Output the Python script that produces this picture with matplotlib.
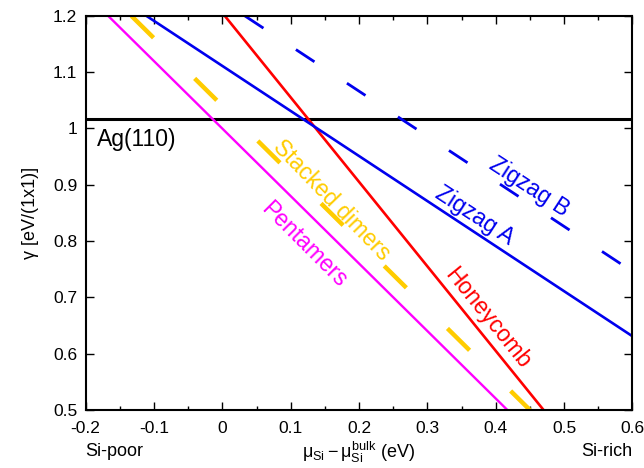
import matplotlib
matplotlib.use("Agg")
import matplotlib.pyplot as plt
from matplotlib.ticker import MultipleLocator

plt.rcParams['font.family'] = ['Liberation Sans', 'DejaVu Sans']
plt.rcParams['mathtext.fontset'] = 'custom'
plt.rcParams['mathtext.rm'] = 'Liberation Sans'
plt.rcParams['mathtext.it'] = 'Liberation Sans'

# line end points (x in eV, gamma in eV/(1x1))
ag_x = [-0.2, 0.6]
ag_y = [1.016, 1.016]
pent_x = [-0.167, 0.417]
pent_y = [1.2, 0.5]
dimer_x = [-0.133, 0.45]
dimer_y = [1.2, 0.5]
honey_x = [0.0036, 0.47]
honey_y = [1.2, 0.5]
zza_x = [-0.111, 0.6]
zza_y = [1.2, 0.631]
zzb_x = [0.033, 0.6]
zzb_y = [1.2, 0.746]

x_ticks = [-0.2, -0.1, 0, 0.1, 0.2, 0.3, 0.4, 0.5, 0.6]
x_ticklabels = ['-0.2', '-0.1', '0', '0.1', '0.2', '0.3', '0.4', '0.5', '0.6']
y_ticks = [0.5, 0.6, 0.7, 0.8, 0.9, 1.0, 1.1, 1.2]
y_ticklabels = ['0.5', '0.6', '0.7', '0.8', '0.9', '1', '1.1', '1.2']

fig = plt.figure(figsize=(6.44, 4.68), dpi=100)
ax = fig.add_axes([0.133, 0.124, 0.849, 0.842])

ax.plot(ag_x, ag_y, color='black', lw=2.2)
ax.plot(pent_x, pent_y, color='#ff00ff', lw=1.7)
ax.plot(dimer_x, dimer_y, color='#ffcc00', lw=3.2, dashes=(7, 13))
ax.plot(honey_x, honey_y, color='#ff0000', lw=1.9)
ax.plot(zza_x, zza_y, color='#0000ee', lw=1.9)
ax.plot(zzb_x, zzb_y, color='#0000ee', lw=2.0, dashes=(8, 14))

lab = dict(fontsize=16.5, ha='center', va='center', rotation_mode='anchor')
ax.text(-0.183, 0.98, 'Ag(110)', fontsize=16.5, ha='left', va='center')
ax.text(0.12, 0.793, 'Pentamers', color='#ff00ff', rotation=-45, **lab)
ax.text(0.16, 0.872, 'Stacked dimers', color='#ffcc00', rotation=-46, **lab)
ax.text(0.388, 0.662, 'Honeycomb', color='#ff0000', rotation=-51, **lab)
ax.text(0.369, 0.845, 'Zigzag A', color='#0000ee', rotation=-33, **lab)
ax.text(0.449, 0.896, 'Zigzag B', color='#0000ee', rotation=-33, **lab)

ax.set_xlim(-0.2, 0.6)
ax.set_ylim(0.5, 1.2)
ax.set_xticks(x_ticks)
ax.set_xticklabels(x_ticklabels)
ax.set_yticks(y_ticks)
ax.set_yticklabels(y_ticklabels)
ax.xaxis.set_minor_locator(MultipleLocator(0.05))
ax.tick_params(which='both', direction='in', top=True, right=True, labelsize=12.5)
ax.tick_params(which='major', length=6, width=1)
ax.tick_params(which='minor', length=3, width=1)
ax.tick_params(axis='x', pad=8)
ax.tick_params(axis='y', pad=6)
for s in ax.spines.values():
    s.set_linewidth(1.5)

ax.set_ylabel('γ [eV/(1x1)]', fontsize=13, labelpad=10)
ax.set_xlabel(r'$\mu_{\mathrm{Si}} - \mu_{\mathrm{Si}}^{\mathrm{bulk}}$ (eV)', fontsize=13, labelpad=3)
ax.text(0.0, -0.083, 'Si-poor', transform=ax.transAxes, fontsize=13, ha='left', va='top')
ax.text(1.0, -0.083, 'Si-rich', transform=ax.transAxes, fontsize=13, ha='right', va='top')

fig.savefig('out.png', dpi=100)
